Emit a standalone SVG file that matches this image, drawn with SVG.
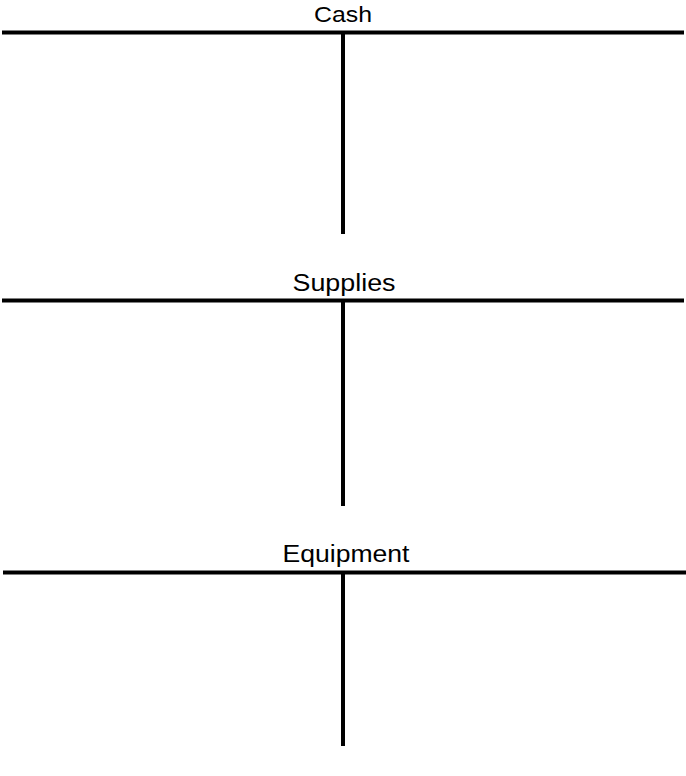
<svg xmlns="http://www.w3.org/2000/svg" width="686" height="776" viewBox="0 0 686 776">
<style>
.ln{stroke:#000;stroke-width:4;fill:none}
.lb{font-family:"Liberation Sans",Arial,sans-serif;fill:#000;text-anchor:middle}
</style>
<rect width="686" height="776" fill="#fff"/>
<g id="cash">
<text class="lb" x="343" y="22" font-size="22" textLength="58" lengthAdjust="spacingAndGlyphs">Cash</text>
</g>
<g id="supplies">
<text class="lb" x="344" y="291" font-size="23.5" textLength="103" lengthAdjust="spacingAndGlyphs">Supplies</text>
</g>
<g id="equipment">
<text class="lb" x="346" y="562" font-size="23.5" textLength="127" lengthAdjust="spacingAndGlyphs">Equipment</text>
</g>
<g id="connectors">
<line class="ln" x1="2" y1="32.5" x2="684" y2="32.5"/>
<line class="ln" x1="343" y1="32" x2="343" y2="234"/>
<line class="ln" x1="2" y1="300.5" x2="684" y2="300.5"/>
<line class="ln" x1="343" y1="300" x2="343" y2="506"/>
<line class="ln" x1="3" y1="572.5" x2="686" y2="572.5"/>
<line class="ln" x1="343" y1="572" x2="343" y2="746"/>
</g>
</svg>
